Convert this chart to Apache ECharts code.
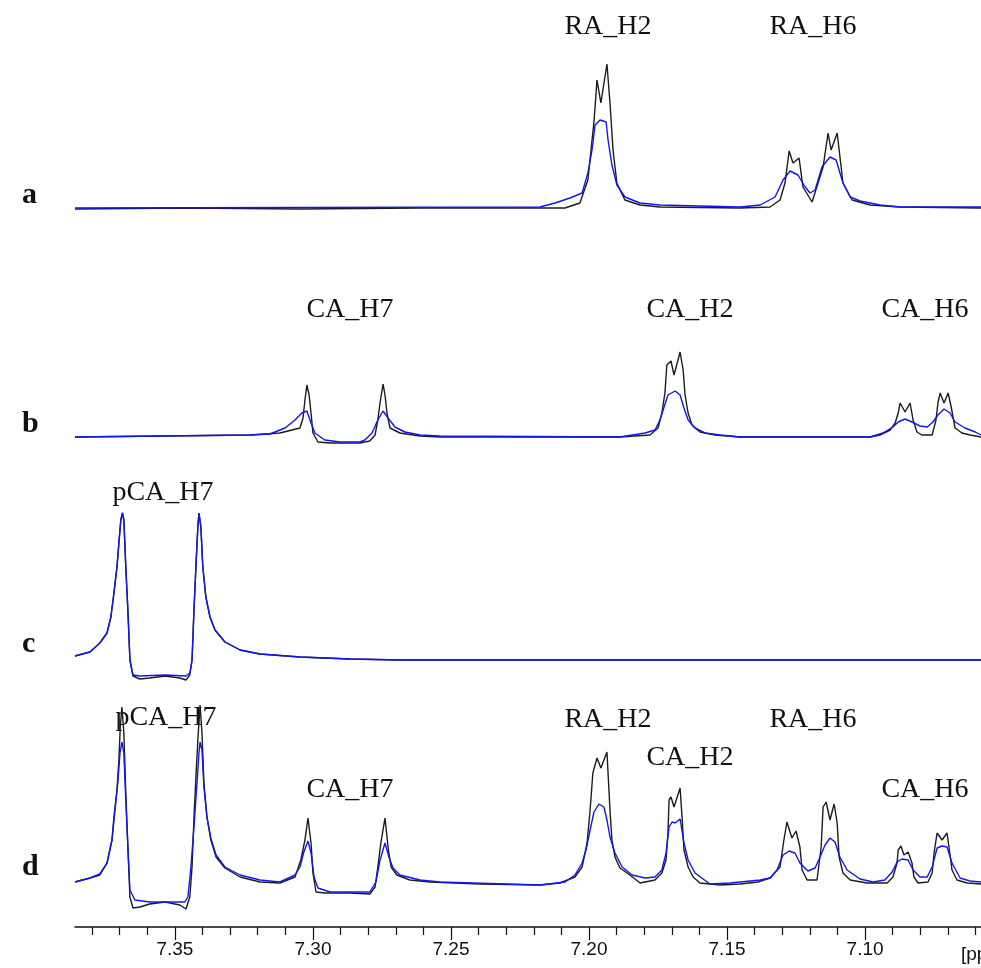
<!DOCTYPE html>
<html>
<head>
<meta charset="utf-8">
<script src="https://cdn.jsdelivr.net/npm/echarts@6/dist/echarts.min.js"></script>
<style>
  html, body { margin: 0; padding: 0; background: #fff; }
  #chart { width: 981px; height: 968px; }
</style>
</head>
<body>
<div id="chart"></div>
<script>
// chemical shift (ppm) vs intensity
const aBlack = [[7.3862,-1],[7.3464,0],[7.3047,-1],[7.2612,0],[7.2178,0],[7.2087,0],[7.2033,5],[7.2004,28],[7.1989,68],[7.1982,86],[7.1971,128],[7.1957,105],[7.1935,144],[7.1924,105],[7.1913,58],[7.1899,25],[7.1870,8],[7.1815,3],[7.1743,1],[7.1453,0],[7.1344,1],[7.1308,8],[7.1290,25],[7.1275,57],[7.1261,45],[7.1239,50],[7.1225,21],[7.1192,6],[7.1152,41],[7.1134,75],[7.1123,58],[7.1101,75],[7.1080,25],[7.1047,8],[7.0982,3],[7.0873,1],[7.0580,0]];
const aBlue = [[7.3862,0],[7.2178,1],[7.2123,5],[7.2069,10],[7.2025,15],[7.2004,35],[7.1989,58],[7.1978,83],[7.1960,88],[7.1938,86],[7.1931,68],[7.1917,43],[7.1899,23],[7.1870,11],[7.1815,5],[7.1743,3],[7.1453,1],[7.1380,3],[7.1326,11],[7.1297,28],[7.1272,37],[7.1243,33],[7.1217,21],[7.1199,15],[7.1181,18],[7.1156,41],[7.1127,51],[7.1105,48],[7.1080,25],[7.1054,11],[7.1018,7],[7.0946,3],[7.0873,1],[7.0580,1]];

const bBlack = [[7.3862,0],[7.3228,2],[7.3120,4],[7.3047,9],[7.3036,19],[7.3029,37],[7.3022,52],[7.3014,42],[7.3007,24],[7.3000,4],[7.2982,-5],[7.2938,-6],[7.2830,-6],[7.2794,-4],[7.2775,2],[7.2765,17],[7.2757,34],[7.2746,53],[7.2739,42],[7.2732,24],[7.2721,9],[7.2685,4],[7.2612,1],[7.2540,0],[7.1888,0],[7.1779,2],[7.1750,9],[7.1736,24],[7.1725,44],[7.1718,72],[7.1703,76],[7.1692,62],[7.1670,85],[7.1659,67],[7.1652,42],[7.1641,24],[7.1627,12],[7.1598,5],[7.1544,2],[7.1453,0],[7.0982,0],[7.0946,2],[7.0909,7],[7.0891,14],[7.0880,24],[7.0873,34],[7.0855,25],[7.0837,34],[7.0826,17],[7.0812,5],[7.0794,2],[7.0757,2],[7.0743,17],[7.0736,34],[7.0728,44],[7.0714,34],[7.0699,44],[7.0688,30],[7.0674,9],[7.0649,4],[7.0620,2],[7.0580,0]];
const bBlue = [[7.3862,0],[7.3228,2],[7.3156,3],[7.3101,9],[7.3065,17],[7.3040,24],[7.3022,26],[7.3007,14],[7.2993,4],[7.2957,-3],[7.2902,-5],[7.2830,-5],[7.2812,-3],[7.2786,4],[7.2765,17],[7.2746,26],[7.2728,19],[7.2703,10],[7.2667,5],[7.2612,2],[7.2540,1],[7.1888,0],[7.1797,4],[7.1761,7],[7.1743,17],[7.1728,30],[7.1714,42],[7.1688,46],[7.1670,42],[7.1656,29],[7.1641,17],[7.1616,9],[7.1580,4],[7.1525,2],[7.1453,0],[7.0982,0],[7.0935,4],[7.0899,10],[7.0880,15],[7.0855,18],[7.0830,15],[7.0801,11],[7.0775,10],[7.0754,15],[7.0736,22],[7.0714,28],[7.0692,24],[7.0674,15],[7.0638,9],[7.0601,5],[7.0580,2]];

const cBlack = [[7.3862,1],[7.3808,5],[7.3772,14],[7.3746,24],[7.3732,40],[7.3721,64],[7.3710,90],[7.3703,114],[7.3696,137],[7.3690,144],[7.3685,137],[7.3678,90],[7.3670,44],[7.3663,-3],[7.3652,-19],[7.3627,-22],[7.3591,-21],[7.3536,-19],[7.3482,-21],[7.3460,-23],[7.3446,-18],[7.3438,-3],[7.3431,47],[7.3424,90],[7.3417,130],[7.3413,144],[7.3406,130],[7.3399,90],[7.3388,60],[7.3373,40],[7.3355,27],[7.3319,15],[7.3264,7],[7.3192,3],[7.3047,0],[7.2866,-2],[7.2685,-3],[7.1800,-3],[7.1000,-3],[7.0580,-3]];
const cBlue = [[7.3862,1],[7.3808,5],[7.3772,14],[7.3746,24],[7.3732,40],[7.3721,64],[7.3710,90],[7.3703,114],[7.3696,137],[7.3690,144],[7.3685,137],[7.3678,90],[7.3670,44],[7.3663,-3],[7.3652,-18],[7.3627,-19],[7.3536,-18],[7.3460,-19],[7.3446,-16],[7.3438,-3],[7.3431,47],[7.3424,90],[7.3417,130],[7.3413,144],[7.3406,130],[7.3399,90],[7.3388,60],[7.3373,40],[7.3355,27],[7.3319,15],[7.3264,7],[7.3192,3],[7.3047,0],[7.2866,-2],[7.2685,-3],[7.0580,-3]];

const dBlack = [[7.3862,0],[7.3808,4],[7.3772,7],[7.3746,19],[7.3728,42],[7.3721,65],[7.3710,92],[7.3703,122],[7.3698,155],[7.3692,175],[7.3685,149],[7.3678,89],[7.3670,32],[7.3663,-15],[7.3652,-26],[7.3627,-25],[7.3591,-22],[7.3536,-20],[7.3482,-23],[7.3460,-27],[7.3446,-15],[7.3438,15],[7.3431,65],[7.3424,105],[7.3417,142],[7.3409,177],[7.3402,149],[7.3395,99],[7.3384,65],[7.3370,42],[7.3351,25],[7.3319,14],[7.3264,5],[7.3192,0],[7.3120,-1],[7.3065,5],[7.3044,22],[7.3029,42],[7.3018,64],[7.3007,39],[7.3000,9],[7.2989,-10],[7.2957,-11],[7.2866,-11],[7.2794,-12],[7.2775,-5],[7.2765,15],[7.2754,39],[7.2739,64],[7.2728,35],[7.2717,15],[7.2696,7],[7.2649,2],[7.2576,0],[7.2395,-2],[7.2178,-3],[7.2105,-1],[7.2051,5],[7.2025,15],[7.2007,39],[7.1996,72],[7.1986,109],[7.1971,124],[7.1957,114],[7.1935,130],[7.1924,72],[7.1917,42],[7.1906,25],[7.1888,14],[7.1852,7],[7.1815,-1],[7.1761,2],[7.1736,9],[7.1721,22],[7.1714,49],[7.1710,82],[7.1703,85],[7.1692,75],[7.1670,94],[7.1663,65],[7.1656,32],[7.1641,15],[7.1623,5],[7.1598,-1],[7.1525,-3],[7.1453,-2],[7.1388,0],[7.1344,4],[7.1308,15],[7.1294,42],[7.1283,60],[7.1265,44],[7.1250,51],[7.1236,35],[7.1228,12],[7.1210,2],[7.1174,2],[7.1159,35],[7.1152,75],[7.1141,80],[7.1127,62],[7.1112,78],[7.1101,59],[7.1094,25],[7.1080,9],[7.1054,2],[7.0993,-1],[7.0920,-1],[7.0899,5],[7.0884,19],[7.0880,32],[7.0870,36],[7.0859,27],[7.0844,30],[7.0830,19],[7.0823,5],[7.0808,-1],[7.0772,0],[7.0757,9],[7.0750,29],[7.0739,49],[7.0736,51],[7.0721,42],[7.0703,49],[7.0696,35],[7.0685,12],[7.0667,2],[7.0630,-1],[7.0580,-2]];
const dBlue = [[7.3862,0],[7.3808,4],[7.3772,8],[7.3746,19],[7.3728,42],[7.3717,72],[7.3707,99],[7.3699,129],[7.3692,140],[7.3685,129],[7.3678,82],[7.3670,32],[7.3663,-8],[7.3645,-18],[7.3591,-20],[7.3518,-20],[7.3464,-20],[7.3453,-15],[7.3442,15],[7.3431,55],[7.3420,99],[7.3413,129],[7.3409,140],[7.3402,132],[7.3395,95],[7.3384,65],[7.3370,44],[7.3351,27],[7.3319,15],[7.3264,7],[7.3192,2],[7.3120,0],[7.3065,7],[7.3047,15],[7.3033,30],[7.3018,41],[7.3007,29],[7.2996,5],[7.2982,-6],[7.2938,-10],[7.2794,-10],[7.2772,0],[7.2757,22],[7.2739,39],[7.2725,25],[7.2710,14],[7.2685,7],[7.2612,2],[7.2540,0],[7.2178,-3],[7.2087,0],[7.2051,7],[7.2025,19],[7.2011,32],[7.1996,52],[7.1982,70],[7.1964,78],[7.1946,75],[7.1935,62],[7.1924,45],[7.1906,29],[7.1880,15],[7.1844,7],[7.1797,4],[7.1761,5],[7.1736,12],[7.1721,29],[7.1710,55],[7.1699,60],[7.1688,59],[7.1670,63],[7.1656,39],[7.1641,22],[7.1616,9],[7.1562,-2],[7.1489,-1],[7.1380,2],[7.1344,4],[7.1319,12],[7.1297,27],[7.1275,31],[7.1254,29],[7.1236,19],[7.1207,11],[7.1181,14],[7.1163,25],[7.1145,37],[7.1127,44],[7.1109,40],[7.1091,25],[7.1065,12],[7.1018,3],[7.0971,0],[7.0928,2],[7.0902,10],[7.0884,20],[7.0866,23],[7.0844,22],[7.0826,12],[7.0801,5],[7.0775,5],[7.0757,15],[7.0739,34],[7.0721,36],[7.0703,35],[7.0685,19],[7.0656,4],[7.0620,1],[7.0580,0]];

const majorTicks = [7.10, 7.15, 7.20, 7.25, 7.30, 7.35];
const tickLabels = ["7.10", "7.15", "7.20", "7.25", "7.30", "7.35"];
const minorTicks = [7.06, 7.07, 7.08, 7.09, 7.11, 7.12, 7.13, 7.14, 7.16, 7.17, 7.18, 7.19, 7.21, 7.22, 7.23, 7.24, 7.26, 7.27, 7.28, 7.29, 7.31, 7.32, 7.33, 7.34, 7.36, 7.37, 7.38];

const panelLabels = ["a", "b", "c", "d"];
const peakLabels = [
	{ text: "RA_H2", x: 608, y: 27 },
	{ text: "RA_H6", x: 813, y: 27 },
	{ text: "CA_H7", x: 350, y: 310 },
	{ text: "CA_H2", x: 690, y: 310 },
	{ text: "CA_H6", x: 925, y: 310 },
	{ text: "pCA_H7", x: 163, y: 493 },
	{ text: "pCA_H7", x: 166, y: 718 },
	{ text: "RA_H2", x: 608, y: 720 },
	{ text: "RA_H6", x: 813, y: 720 },
	{ text: "CA_H7", x: 350, y: 790 },
	{ text: "CA_H2", x: 690, y: 758 },
	{ text: "CA_H6", x: 925, y: 790 }
];

const X_MIN = 7.058, X_MAX = 7.3862;

// panel layout in px: grid top/height and y range so that 1 unit = 1 px
const panels = [
	{ top: 40, height: 180, min: -12, max: 168, labelY: 196 },
	{ top: 330, height: 120, min: -13, max: 107, labelY: 425 },
	{ top: 480, height: 210, min: -33, max: 177, labelY: 645 },
	{ top: 690, height: 237, min: -45, max: 192, labelY: 868 }
];
const spectra = [[aBlack, aBlue], [bBlack, bBlue], [cBlack, cBlue], [dBlack, dBlue]];

const chart = echarts.init(document.getElementById("chart"), null, { renderer: "canvas" });

const grid = panels.map(p => ({ left: 75, right: 0, top: p.top, height: p.height }));

const xAxis = panels.map((p, i) => ({
	type: "value",
	gridIndex: i,
	min: X_MIN,
	max: X_MAX,
	inverse: true,
	show: i === 3,
	axisLine: { show: true, onZero: false, lineStyle: { color: "#111", width: 1.5 } },
	axisTick: { show: true, customValues: minorTicks, length: 8, lineStyle: { color: "#111", width: 1.2 } },
	axisLabel: { show: false },
	splitLine: { show: false }
}));
// second axis on the bottom panel for the long ticks and labels
xAxis.push({
	type: "value",
	gridIndex: 3,
	min: X_MIN,
	max: X_MAX,
	inverse: true,
	position: "bottom",
	axisLine: { show: false, onZero: false },
	axisTick: { show: true, customValues: majorTicks, length: 13, lineStyle: { color: "#111", width: 1.2 } },
	axisLabel: {
		show: true,
		customValues: majorTicks,
		formatter: v => tickLabels[majorTicks.findIndex(t => Math.abs(t - v) < 1e-6)],
		fontFamily: "Liberation Sans",
		fontSize: 19,
		color: "#111",
		margin: 13
	},
	splitLine: { show: false }
});

const yAxis = panels.map((p, i) => ({
	type: "value",
	gridIndex: i,
	min: p.min,
	max: p.max,
	show: false,
	splitLine: { show: false }
}));

const series = [];
spectra.forEach((pair, i) => {
	series.push({
		type: "line", xAxisIndex: i, yAxisIndex: i, data: pair[0],
		showSymbol: false, silent: true, z: 2,
		lineStyle: { color: "#1c1c1c", width: 1.4 }
	});
	series.push({
		type: "line", xAxisIndex: i, yAxisIndex: i, data: pair[1],
		showSymbol: false, silent: true, z: 3,
		lineStyle: { color: "#1414f0", width: 1.4 }
	});
});

const graphic = [];
panels.forEach((p, i) => {
	graphic.push({
		type: "text", left: 22, top: p.labelY - 16,
		style: { text: panelLabels[i], font: "bold 30px 'Liberation Serif'", fill: "#111" }
	});
});
peakLabels.forEach(l => {
	graphic.push({
		type: "text", x: l.x, y: l.y,
		style: { text: l.text, font: "28px 'Liberation Serif'", fill: "#111", align: "center", verticalAlign: "middle" }
	});
});
graphic.push({
	type: "text", x: 961, y: 955,
	style: { text: "[ppm]", font: "19px 'Liberation Sans'", fill: "#111", verticalAlign: "middle" }
});

chart.setOption({
	animation: false,
	backgroundColor: "#fff",
	grid,
	xAxis,
	yAxis,
	series,
	graphic
});
</script>
</body>
</html>
